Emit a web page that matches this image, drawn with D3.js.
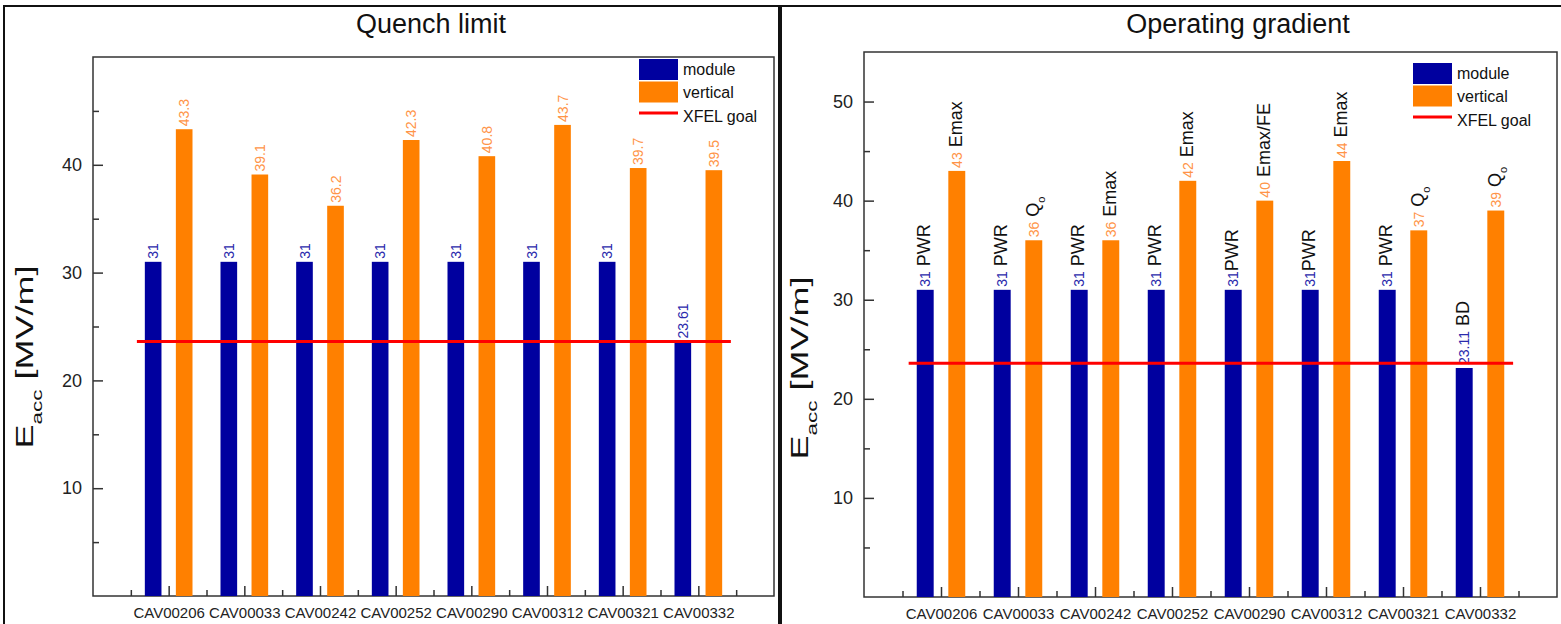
<!DOCTYPE html>
<html>
<head>
<meta charset="utf-8">
<script src="https://cdn.jsdelivr.net/npm/d3@7/dist/d3.min.js"></script>
<style>
  html, body { margin: 0; padding: 0; background: #fff; }
  svg { display: block; font-family: "Liberation Sans", Arial, sans-serif; }
</style>
</head>
<body>
<svg id="chart" width="1561" height="624"></svg>
<script>
// ---------------- data ----------------
const categories = ["CAV00206","CAV00033","CAV00242","CAV00252","CAV00290","CAV00312","CAV00321","CAV00332"];
const quenchModule   = [31, 31, 31, 31, 31, 31, 31, 23.61];
const quenchVertical = [43.3, 39.1, 36.2, 42.3, 40.8, 43.7, 39.7, 39.5];
const operModule     = [31, 31, 31, 31, 31, 31, 31, 23.11];
const operVertical   = [43, 36, 36, 42, 40, 44, 37, 39];
const operModuleNote   = [" PWR", " PWR", " PWR", " PWR", "PWR", "PWR", " PWR", " BD"];
const operVerticalNote = [" Emax", " Q_o", " Emax", " Emax", " Emax/FE", " Emax", " Q_o", " Q_o"];
const xfelGoal = 23.6;
const seriesNames = ["module", "vertical", "XFEL goal"];
const quenchYTicks = [10, 20, 30, 40];
const quenchYMinor = [5, 15, 25, 35, 45];
const operYTicks = [10, 20, 30, 40, 50];
const operYMinor = [5, 15, 25, 35, 45];

// ---------------- style ----------------
const BLUE = "#00009f", ORANGE = "#ff8000", RED = "#ff0000";
const BLUE_TXT = "#2a2aac", ORANGE_TXT = "#ff9448";
const svg = d3.select("#chart");

// panel frames
svg.append("rect").attr("x", 4).attr("y", 6).attr("width", 775).attr("height", 640)
  .attr("fill", "none").attr("stroke", "#111").attr("stroke-width", 2);
svg.append("rect").attr("x", 781).attr("y", 6).attr("width", 800).attr("height", 640)
  .attr("fill", "none").attr("stroke", "#111").attr("stroke-width", 2);

function panel(cfg) {
  const g = svg.append("g");
  const x = d3.scaleLinear().domain([0, categories.length + 1]).range([cfg.left, cfg.right]);
  const y = d3.scaleLinear().domain(cfg.yDomain).range([cfg.bottom, cfg.top]);
  const step = x(1) - x(0);
  const bw = step * 0.22, off = step * 0.205;

  // title
  g.append("text").attr("x", cfg.titleX).attr("y", 33).attr("text-anchor", "middle")
    .attr("font-size", 27).attr("fill", "#111").text(cfg.title);

  // plot box
  g.append("rect").attr("x", cfg.left).attr("y", cfg.top)
    .attr("width", cfg.right - cfg.left).attr("height", cfg.bottom - cfg.top)
    .attr("fill", "none").attr("stroke", "#333").attr("stroke-width", 1.5);

  // bars
  const idx = d3.range(categories.length);
  g.selectAll(".bm").data(idx).join("rect")
    .attr("x", i => x(i + 1) - off - bw / 2).attr("width", bw)
    .attr("y", i => y(cfg.module[i])).attr("height", i => y(0) - y(cfg.module[i]))
    .attr("fill", BLUE);
  g.selectAll(".bv").data(idx).join("rect")
    .attr("x", i => x(i + 1) + off - bw / 2).attr("width", bw)
    .attr("y", i => y(cfg.vertical[i])).attr("height", i => y(0) - y(cfg.vertical[i]))
    .attr("fill", ORANGE);

  // bar labels
  function label(i, val, color, note, dx) {
    const t = g.append("text")
      .attr("transform", `translate(${x(i + 1) + dx},${y(val) - 3}) rotate(-90)`)
      .attr("dy", "0.36em").attr("font-size", 14);
    t.append("tspan").attr("fill", color).text(cfg.fmt(val));
    if (note) {
      const m = note.split("_");
      t.append("tspan").attr("fill", "#111").attr("font-size", 18).text(m[0]);
      if (m[1]) t.append("tspan").attr("fill", "#111").attr("font-size", 11)
        .attr("baseline-shift", "sub").text(m[1]);
    }
  }
  idx.forEach(i => {
    label(i, cfg.module[i], BLUE_TXT, cfg.moduleNote ? cfg.moduleNote[i] : null, -off);
    label(i, cfg.vertical[i], ORANGE_TXT, cfg.verticalNote ? cfg.verticalNote[i] : null, off);
  });

  // goal line
  g.append("line").attr("x1", x(1 - 0.42)).attr("x2", x(categories.length + 0.43))
    .attr("y1", y(xfelGoal)).attr("y2", y(xfelGoal))
    .attr("stroke", RED).attr("stroke-width", 3);

  // y axis
  const ya = g.append("g").attr("transform", `translate(${cfg.left},0)`)
    .call(d3.axisLeft(y).tickValues(cfg.yTicks).tickSize(-10).tickPadding(11));
  g.append("g").attr("transform", `translate(${cfg.left},0)`)
    .call(d3.axisLeft(y).tickValues(cfg.yMinor).tickSize(-6).tickFormat(""));
  // x axis
  const xa = g.append("g").attr("transform", `translate(0,${cfg.bottom})`)
    .call(d3.axisBottom(x).tickValues(idx.map(i => i + 1)).tickSize(-10).tickPadding(11)
      .tickFormat(v => categories[v - 1]));
  g.append("g").attr("transform", `translate(0,${cfg.bottom})`)
    .call(d3.axisBottom(x).tickValues(d3.range(categories.length + 1).map(i => i + 0.5))
      .tickSize(-6).tickFormat(""));
  g.selectAll(".domain").remove();
  g.selectAll(".tick line").attr("stroke", "#333").attr("stroke-width", 1.5);
  ya.selectAll("text").attr("font-size", 18).attr("fill", "#222").attr("font-family", "Liberation Sans, Arial");
  xa.selectAll("text").attr("font-size", 15).attr("fill", "#222").attr("font-family", "Liberation Sans, Arial");

  // y label
  const yl = g.append("text")
    .attr("transform", `translate(${cfg.ylabX},${cfg.ylabY}) rotate(-90) scale(1.5,1)`)
    .attr("text-anchor", "middle").attr("font-size", 24).attr("fill", "#111");
  yl.append("tspan").text("E");
  yl.append("tspan").attr("font-size", 15).attr("baseline-shift", "sub").text("acc");
  yl.append("tspan").text(" [MV/m]");

  // legend
  const L = cfg.legend;
  g.append("rect").attr("x", L.x).attr("y", L.y).attr("width", 39).attr("height", 21).attr("fill", BLUE);
  g.append("rect").attr("x", L.x).attr("y", L.y + 22.5).attr("width", 39).attr("height", 21).attr("fill", ORANGE);
  g.append("line").attr("x1", L.x).attr("x2", L.x + 39).attr("y1", L.y + 54).attr("y2", L.y + 54)
    .attr("stroke", RED).attr("stroke-width", 3);
  seriesNames.forEach((s, k) => {
    g.append("text").attr("x", L.x + 44).attr("y", L.y + 10 + k * 23 + (k === 2 ? 1 : 0))
      .attr("dy", "0.36em").attr("font-size", 16).attr("fill", "#111").text(s);
  });
}

panel({
  title: "Quench limit", titleX: 431,
  left: 93, right: 774, top: 57, bottom: 596, yDomain: [0, 50],
  module: quenchModule, vertical: quenchVertical,
  fmt: v => String(v),
  yTicks: quenchYTicks, yMinor: quenchYMinor,
  ylabX: 33, ylabY: 357,
  legend: { x: 639, y: 59 }
});
panel({
  title: "Operating gradient", titleX: 1238,
  left: 864, right: 1557, top: 52, bottom: 597, yDomain: [0, 55],
  module: operModule, vertical: operVertical,
  moduleNote: operModuleNote, verticalNote: operVerticalNote,
  fmt: v => String(v),
  yTicks: operYTicks, yMinor: operYMinor,
  ylabX: 808, ylabY: 368,
  legend: { x: 1413, y: 63 }
});
</script>
</body>
</html>
